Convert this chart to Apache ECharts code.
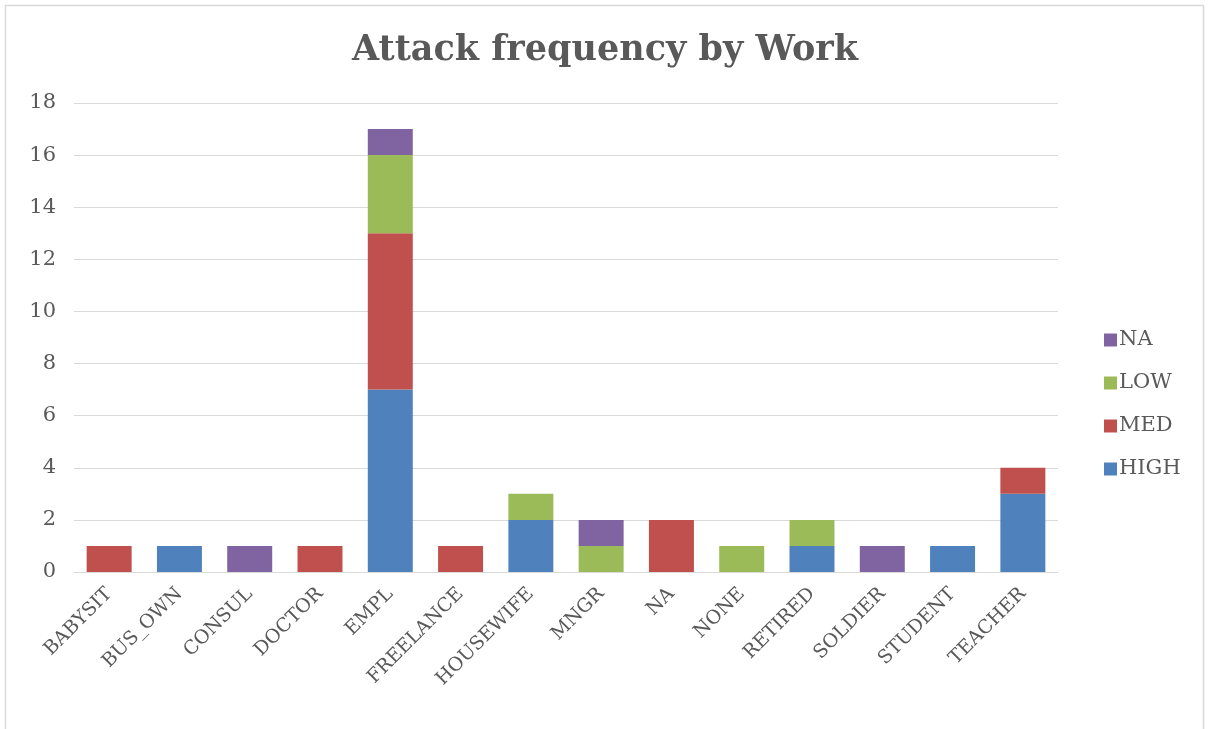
<!DOCTYPE html>
<html>
<head>
<meta charset="utf-8">
<script src="https://cdn.jsdelivr.net/npm/echarts@6/dist/echarts.min.js"></script>
<style>
  html, body { margin: 0; padding: 0; background: #fff; }
  #main { width: 1210px; height: 729px; }
</style>
</head>
<body>
<div id="main"></div>
<script>
// categories on the x axis
const works = ['BABYSIT', 'BUS_OWN', 'CONSUL', 'DOCTOR', 'EMPL', 'FREELANCE', 'HOUSEWIFE',
    'MNGR', 'NA', 'NONE', 'RETIRED', 'SOLDIER', 'STUDENT', 'TEACHER'];

// stacked series values
const high = [0, 1, 0, 0, 7, 0, 2, 0, 0, 0, 1, 0, 1, 3];
const med  = [1, 0, 0, 1, 6, 1, 0, 0, 2, 0, 0, 0, 0, 1];
const low  = [0, 0, 0, 0, 3, 0, 1, 1, 0, 1, 1, 0, 0, 0];
const na   = [0, 0, 1, 0, 1, 0, 0, 1, 0, 0, 0, 1, 0, 0];

const yTicks = [0, 2, 4, 6, 8, 10, 12, 14, 16, 18];

const textColor = '#595959';
const serif = '"DejaVu Serif", "Liberation Serif", serif';

function makeSeries(name, data, color) {
    return {
        name: name,
        type: 'bar',
        stack: 'total',
        barCategoryGap: '36%',
        itemStyle: { color: color },
        // zero segments are skipped so they do not draw
        data: data.map(v => v === 0 ? null : v)
    };
}

const option = {
    animation: false,
    backgroundColor: '#fff',
    title: {
        text: 'Attack frequency by Work',
        left: 'center',
        top: 28,
        textStyle: { fontFamily: serif, fontWeight: 'bold', fontSize: 35, color: textColor }
    },
    legend: {
        data: ['NA', 'LOW', 'MED', 'HIGH'],
        orient: 'vertical',
        left: 1099,
        top: 324,
        itemWidth: 13,
        itemHeight: 13,
        itemGap: 21,
        icon: 'rect',
        textStyle: { fontFamily: serif, fontSize: 21, lineHeight: 22, color: textColor, padding: [0, 0, 0, -3] }
    },
    grid: { left: 74, right: 152, top: 103, bottom: 157 },
    xAxis: {
        type: 'category',
        data: works,
        axisLine: { lineStyle: { color: '#d9d9d9', width: 1 } },
        axisTick: { show: false },
        axisLabel: {
            rotate: 45,
            interval: 0,
            margin: 19,
            fontFamily: serif,
            fontSize: 19,
            color: textColor
        }
    },
    yAxis: {
        type: 'value',
        min: yTicks[0],
        max: yTicks[yTicks.length - 1],
        interval: 2,
        axisLine: { show: false },
        axisTick: { show: false },
        splitLine: { lineStyle: { color: '#d9d9d9', width: 1 } },
        axisLabel: { fontFamily: serif, fontSize: 21, color: textColor, margin: 18 }
    },
    graphic: [{
        type: 'rect',
        shape: { x: 5.5, y: 5.5, width: 1198, height: 760 },
        style: { fill: null, stroke: '#d9d9d9', lineWidth: 1.5 },
        silent: true
    }],
    series: [
        makeSeries('HIGH', high, '#4F81BD'),
        makeSeries('MED', med, '#C0504D'),
        makeSeries('LOW', low, '#9BBB59'),
        makeSeries('NA', na, '#8064A2')
    ]
};

let plot = echarts.init(document.querySelector('#main'));
plot.setOption(option);
</script>
</body>
</html>
